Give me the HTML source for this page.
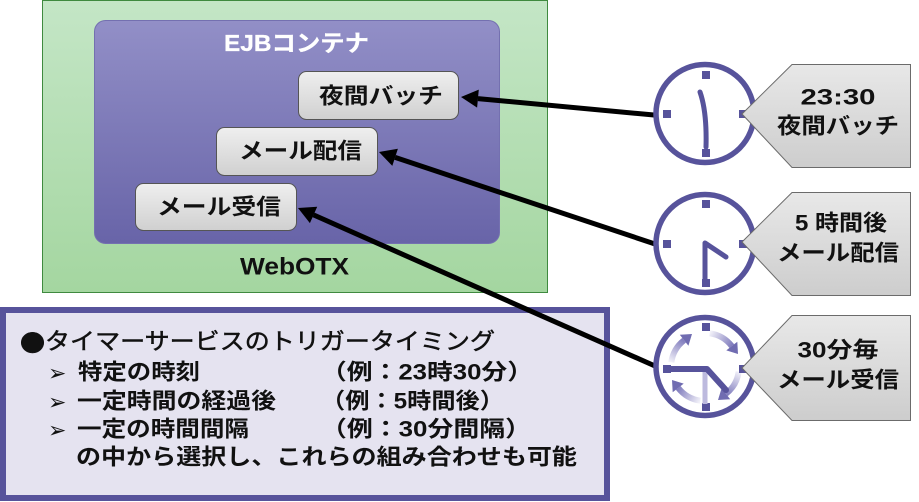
<!DOCTYPE html>
<html>
<head>
<meta charset="utf-8">
<style>
html,body{margin:0;padding:0;background:#fff;}
body{width:919px;height:502px;overflow:hidden;}
svg{display:block;}
text{font-family:"Liberation Sans","Noto Sans CJK JP",sans-serif;}
</style>
</head>
<body>
<svg width="919" height="502" viewBox="0 0 919 502" xmlns="http://www.w3.org/2000/svg">
<defs>
  <linearGradient id="gGreen" x1="0" y1="0" x2="0" y2="1">
    <stop offset="0" stop-color="#c4e6c6"/>
    <stop offset="1" stop-color="#a4d6a0"/>
  </linearGradient>
  <linearGradient id="gEjb" x1="0" y1="0" x2="0" y2="1">
    <stop offset="0" stop-color="#928fc7"/>
    <stop offset="1" stop-color="#6864a8"/>
  </linearGradient>
  <linearGradient id="gBox" x1="0" y1="0" x2="0" y2="1">
    <stop offset="0" stop-color="#efefef"/>
    <stop offset="1" stop-color="#d0d0d0"/>
  </linearGradient>
  <linearGradient id="gCall" x1="0" y1="0" x2="0" y2="1">
    <stop offset="0" stop-color="#e8e8e8"/>
    <stop offset="1" stop-color="#cdcdcd"/>
  </linearGradient>
  <linearGradient id="aA" gradientUnits="userSpaceOnUse" x1="671.3" y1="362.3" x2="684.1" y2="340.2">
    <stop offset="0" stop-color="#f2f1f9"/><stop offset="1" stop-color="#807cbd"/>
  </linearGradient>
  <linearGradient id="aB" gradientUnits="userSpaceOnUse" x1="709.7" y1="333.3" x2="731.8" y2="346.1">
    <stop offset="0" stop-color="#f2f1f9"/><stop offset="1" stop-color="#807cbd"/>
  </linearGradient>
  <linearGradient id="aC" gradientUnits="userSpaceOnUse" x1="738.7" y1="371.7" x2="725.9" y2="393.8">
    <stop offset="0" stop-color="#f2f1f9"/><stop offset="1" stop-color="#807cbd"/>
  </linearGradient>
  <linearGradient id="aD" gradientUnits="userSpaceOnUse" x1="700.3" y1="400.7" x2="678.2" y2="387.9">
    <stop offset="0" stop-color="#f2f1f9"/><stop offset="1" stop-color="#807cbd"/>
  </linearGradient>
</defs>

<!-- WebOTX green box -->
<rect x="42.5" y="0.5" width="505" height="292" fill="url(#gGreen)" stroke="#3f8a3f" stroke-width="1"/>
<!-- EJB container -->
<rect x="94.5" y="20.5" width="405" height="223" rx="11" ry="11" fill="url(#gEjb)" stroke="#7470b0" stroke-width="1"/>
<text x="224" y="43" dominant-baseline="central" font-size="23" font-weight="bold" fill="#ffffff" stroke="#ffffff" stroke-width="0.3" textLength="145" lengthAdjust="spacingAndGlyphs">EJBコンテナ</text>

<!-- small boxes -->
<rect x="298.5" y="71.5" width="160" height="48" rx="8" ry="8" fill="url(#gBox)" stroke="#555" stroke-width="1"/>
<text x="319" y="96" dominant-baseline="central" font-size="22" font-weight="bold" fill="#111" textLength="124" lengthAdjust="spacingAndGlyphs">夜間バッチ</text>

<rect x="216.5" y="127.5" width="161" height="48" rx="8" ry="8" fill="url(#gBox)" stroke="#555" stroke-width="1"/>
<text x="239" y="151" dominant-baseline="central" font-size="22" font-weight="bold" fill="#111" textLength="123" lengthAdjust="spacingAndGlyphs">メール配信</text>

<rect x="135.5" y="183.5" width="161" height="47" rx="8" ry="8" fill="url(#gBox)" stroke="#555" stroke-width="1"/>
<text x="157" y="207" dominant-baseline="central" font-size="22" font-weight="bold" fill="#111" textLength="124" lengthAdjust="spacingAndGlyphs">メール受信</text>

<text x="240" y="267" dominant-baseline="central" font-size="24" font-weight="bold" fill="#111" textLength="109" lengthAdjust="spacingAndGlyphs">WebOTX</text>

<!-- bottom panel -->
<rect x="3" y="310" width="604" height="188" fill="#e5e3f0" stroke="#57539b" stroke-width="6"/>
<text x="20" y="341" dominant-baseline="central" font-size="23" fill="#111" stroke="#111" stroke-width="0.5" textLength="475" lengthAdjust="spacingAndGlyphs"><tspan font-family="Noto Sans CJK JP, sans-serif">●</tspan>タイマーサービスのトリガータイミング</text>

<text x="48" y="373" dominant-baseline="central" font-size="22" fill="#111" font-family="DejaVu Sans, sans-serif">➢</text>
<text x="78" y="372" dominant-baseline="central" font-size="22" font-weight="bold" fill="#111" textLength="122" lengthAdjust="spacingAndGlyphs">特定の時刻</text>
<text x="321" y="372" dominant-baseline="central" font-size="22" font-weight="bold" fill="#111" textLength="212" lengthAdjust="spacingAndGlyphs">（例：23時30分）</text>

<text x="48" y="402" dominant-baseline="central" font-size="22" fill="#111" font-family="DejaVu Sans, sans-serif">➢</text>
<text x="77" y="401" dominant-baseline="central" font-size="22" font-weight="bold" fill="#111" textLength="199" lengthAdjust="spacingAndGlyphs">一定時間の経過後</text>
<text x="321" y="401" dominant-baseline="central" font-size="22" font-weight="bold" fill="#111" textLength="183" lengthAdjust="spacingAndGlyphs">（例：5時間後）</text>

<text x="48" y="430" dominant-baseline="central" font-size="22" fill="#111" font-family="DejaVu Sans, sans-serif">➢</text>
<text x="77" y="429" dominant-baseline="central" font-size="22" font-weight="bold" fill="#111" textLength="172" lengthAdjust="spacingAndGlyphs">一定の時間間隔</text>
<text x="321" y="429" dominant-baseline="central" font-size="22" font-weight="bold" fill="#111" textLength="210" lengthAdjust="spacingAndGlyphs">（例：30分間隔）</text>

<text x="76" y="457" dominant-baseline="central" font-size="22" font-weight="bold" fill="#111" textLength="501" lengthAdjust="spacingAndGlyphs">の中から選択し、これらの組み合わせも可能</text>

<!-- connectors -->
<line x1="654" y1="115" x2="477.9" y2="98.6" stroke="#000" stroke-width="5"/>
<polygon points="461,97 478.8,89.6 477.1,107.6" fill="#000"/>
<line x1="655" y1="244" x2="395.1" y2="157.4" stroke="#000" stroke-width="5"/>
<polygon points="379,152 397.9,148.8 392.3,165.9" fill="#000"/>
<line x1="655" y1="366" x2="313.5" y2="214.9" stroke="#000" stroke-width="5"/>
<polygon points="298,208 317.2,206.7 309.9,223.1" fill="#000"/>

<!-- clock 1 -->
<circle cx="705" cy="113.5" r="49" fill="#fff" stroke="#57539b" stroke-width="5.5"/>
<rect x="702" y="71" width="8" height="8" fill="#57539b"/>
<rect x="663" y="110" width="8" height="8" fill="#57539b"/>
<rect x="702" y="149" width="8" height="8" fill="#57539b"/>
<rect x="739" y="110" width="8" height="8" fill="#57539b"/>
<path d="M700,92 Q707,112 706,147" fill="none" stroke="#57539b" stroke-width="5" stroke-linecap="round"/>

<!-- clock 2 -->
<circle cx="705" cy="243.5" r="49" fill="#fff" stroke="#57539b" stroke-width="5.5"/>
<rect x="702" y="200" width="8" height="8" fill="#57539b"/>
<rect x="663" y="240" width="8" height="8" fill="#57539b"/>
<rect x="702" y="279" width="8" height="8" fill="#57539b"/>
<rect x="739" y="240" width="8" height="8" fill="#57539b"/>
<line x1="705" y1="243" x2="705" y2="279" stroke="#57539b" stroke-width="5"/>
<line x1="705" y1="243" x2="726" y2="257" stroke="#57539b" stroke-width="5" stroke-linecap="round"/>

<!-- clock 3 -->
<circle cx="705" cy="366.5" r="49" fill="#fff" stroke="#57539b" stroke-width="5.5"/>
<path d="M671.3,362.3 A34,34 0 0 1 684.1,340.2" fill="none" stroke="url(#aA)" stroke-width="6"/>
<polygon points="692.0,334.0 679.8,334.7 688.4,345.7" fill="#706cb1"/>
<path d="M709.7,333.3 A34,34 0 0 1 731.8,346.1" fill="none" stroke="url(#aB)" stroke-width="6"/>
<polygon points="738.0,354.0 737.3,341.8 726.3,350.4" fill="#706cb1"/>
<path d="M738.7,371.7 A34,34 0 0 1 725.9,393.8" fill="none" stroke="url(#aC)" stroke-width="6"/>
<polygon points="718.0,400.0 730.2,399.3 721.6,388.3" fill="#706cb1"/>
<path d="M700.3,400.7 A34,34 0 0 1 678.2,387.9" fill="none" stroke="url(#aD)" stroke-width="6"/>
<polygon points="672.0,380.0 672.7,392.2 683.7,383.6" fill="#706cb1"/>
<rect x="702" y="323" width="8" height="8" fill="#57539b"/>
<rect x="663" y="365" width="8" height="8" fill="#57539b"/>
<rect x="702" y="403" width="8" height="8" fill="#57539b"/>
<rect x="739" y="365" width="8" height="8" fill="#57539b"/>
<line x1="705" y1="372" x2="705" y2="404" stroke="#bdbade" stroke-width="5"/>
<polyline points="668,369 707,369 726,390" fill="none" stroke="#57539b" stroke-width="6" stroke-linecap="round" stroke-linejoin="round"/>

<!-- callouts -->
<polygon points="742,114 792,64.5 910.5,64.5 910.5,167.5 792,167.5" fill="url(#gCall)" stroke="#6b6b6b" stroke-width="1"/>
<text x="838" y="97" text-anchor="middle" dominant-baseline="central" font-size="22" font-weight="bold" fill="#111" textLength="75" lengthAdjust="spacingAndGlyphs">23:30</text>
<text x="838" y="126" text-anchor="middle" dominant-baseline="central" font-size="22" font-weight="bold" fill="#111" textLength="122" lengthAdjust="spacingAndGlyphs">夜間バッチ</text>

<polygon points="742,242 792,192.5 910.5,192.5 910.5,295.5 792,295.5" fill="url(#gCall)" stroke="#6b6b6b" stroke-width="1"/>
<text x="841" y="223" text-anchor="middle" dominant-baseline="central" font-size="22" font-weight="bold" fill="#111" textLength="92" lengthAdjust="spacingAndGlyphs">5 時間後</text>
<text x="838" y="253" text-anchor="middle" dominant-baseline="central" font-size="22" font-weight="bold" fill="#111" textLength="122" lengthAdjust="spacingAndGlyphs">メール配信</text>

<polygon points="742,368 792,315.5 910.5,315.5 910.5,420.5 792,420.5" fill="url(#gCall)" stroke="#6b6b6b" stroke-width="1"/>
<text x="838" y="350" text-anchor="middle" dominant-baseline="central" font-size="22" font-weight="bold" fill="#111" textLength="81" lengthAdjust="spacingAndGlyphs">30分毎</text>
<text x="838" y="380" text-anchor="middle" dominant-baseline="central" font-size="22" font-weight="bold" fill="#111" textLength="122" lengthAdjust="spacingAndGlyphs">メール受信</text>
</svg>
</body>
</html>
